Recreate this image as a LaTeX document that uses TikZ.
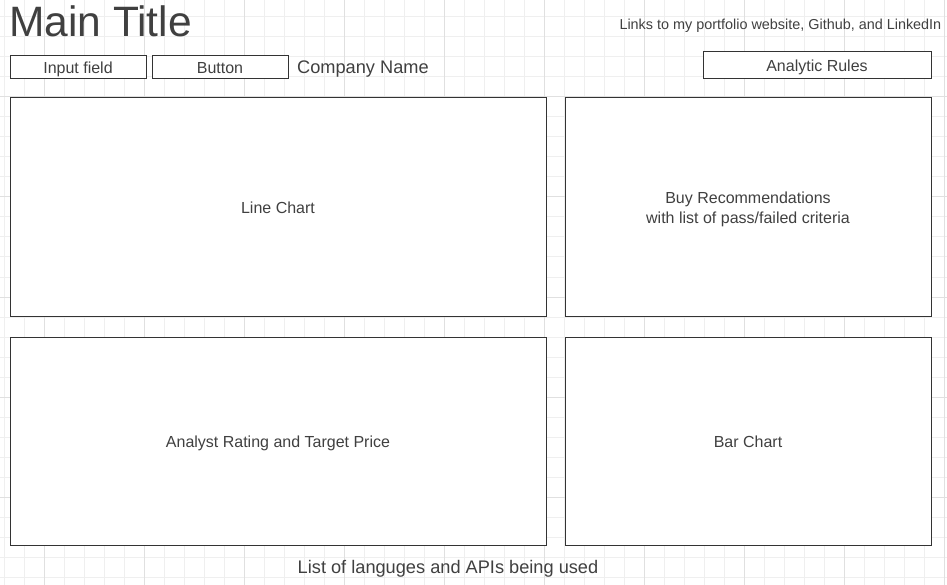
\documentclass[tikz,border=0pt]{standalone}
\usepackage{fontspec}
\setmainfont{Liberation Sans}
\definecolor{gridminor}{HTML}{EFEFEF}
\definecolor{gridmajor}{HTML}{E0E0E0}
\definecolor{boxline}{HTML}{333333}
\definecolor{txt}{HTML}{404040}
\begin{document}
\begin{tikzpicture}[x=1pt,y=-1pt,
  panel/.style={draw=boxline, fill=white, line width=1pt, inner sep=0pt},
  paneltext/.style={inner sep=0pt, text=txt, align=center,
    font=\fontsize{16}{20}\selectfont},
  label/.style={inner sep=0pt, text=txt}]
  % page and bounding box
  \fill[white] (0,0) rectangle (947,585);
  \useasboundingbox (0,0) rectangle (947,585);
  % background grid: thin lines every 20, darker every 100
  \foreach \gx in {4,24,...,944} \draw[gridminor, line width=1pt] (\gx,0) -- (\gx,585);
  \foreach \gy in {17,37,...,577} \draw[gridminor, line width=1pt] (0,\gy) -- (947,\gy);
  \foreach \gx in {44,144,...,944} \draw[gridmajor, line width=1pt] (\gx,0) -- (\gx,585);
  \foreach \gy in {97,197,...,497} \draw[gridmajor, line width=1pt] (0,\gy) -- (947,\gy);

  % header
  \node[label, anchor=base west, font=\fontsize{42.5}{48}\selectfont] (title) at (9,37) {Main Title};
  \node[label, anchor=base east, font=\fontsize{14.4}{17}\selectfont] (links) at (941.5,29.5)
    {Links to my portfolio website, Github, and LinkedIn};
  \node[panel, minimum width=136, minimum height=23] (input) at (78,67.5) {};
  \node[paneltext, anchor=base, yshift=-6.5pt] (inputtext) at (input.center) {Input field};
  \node[panel, minimum width=136, minimum height=23] (button) at (220,67.5) {};
  \node[paneltext, anchor=base, yshift=-6.5pt] (buttontext) at (button.center) {Button};
  \node[label, anchor=base west, font=\fontsize{18.2}{22}\selectfont] (company) at (297,73.5) {Company Name};
  \node[panel, minimum width=228, minimum height=27] (rules) at (817,65.5) {};
  \node[paneltext, anchor=base, yshift=-6.5pt] (rulestext) at (rules.center) {Analytic Rules};

  % main panels
  \node[panel, minimum width=536, minimum height=218] (line) at (278,207) {};
  \node[paneltext, anchor=base, yshift=-6.5pt] (linetext) at (line.center) {Line Chart};
  \node[panel, minimum width=366, minimum height=218] (buy) at (748,207) {};
  \node[paneltext, anchor=center, yshift=-2.5pt] (buytext) at (buy.center)
    {Buy Recommendations\\with list of pass/failed criteria};
  \node[panel, minimum width=536, minimum height=208] (analyst) at (278,441) {};
  \node[paneltext, anchor=base, yshift=-6.5pt] (analysttext) at (analyst.center)
    {Analyst Rating and Target Price};
  \node[panel, minimum width=366, minimum height=208] (bar) at (748,441) {};
  \node[paneltext, anchor=base, yshift=-6.5pt] (bartext) at (bar.center) {Bar Chart};

  % footer
  \node[label, anchor=base, font=\fontsize{18.2}{22}\selectfont] (footer) at (448,573.5)
    {List of languges and APIs being used};
\end{tikzpicture}
\end{document}
